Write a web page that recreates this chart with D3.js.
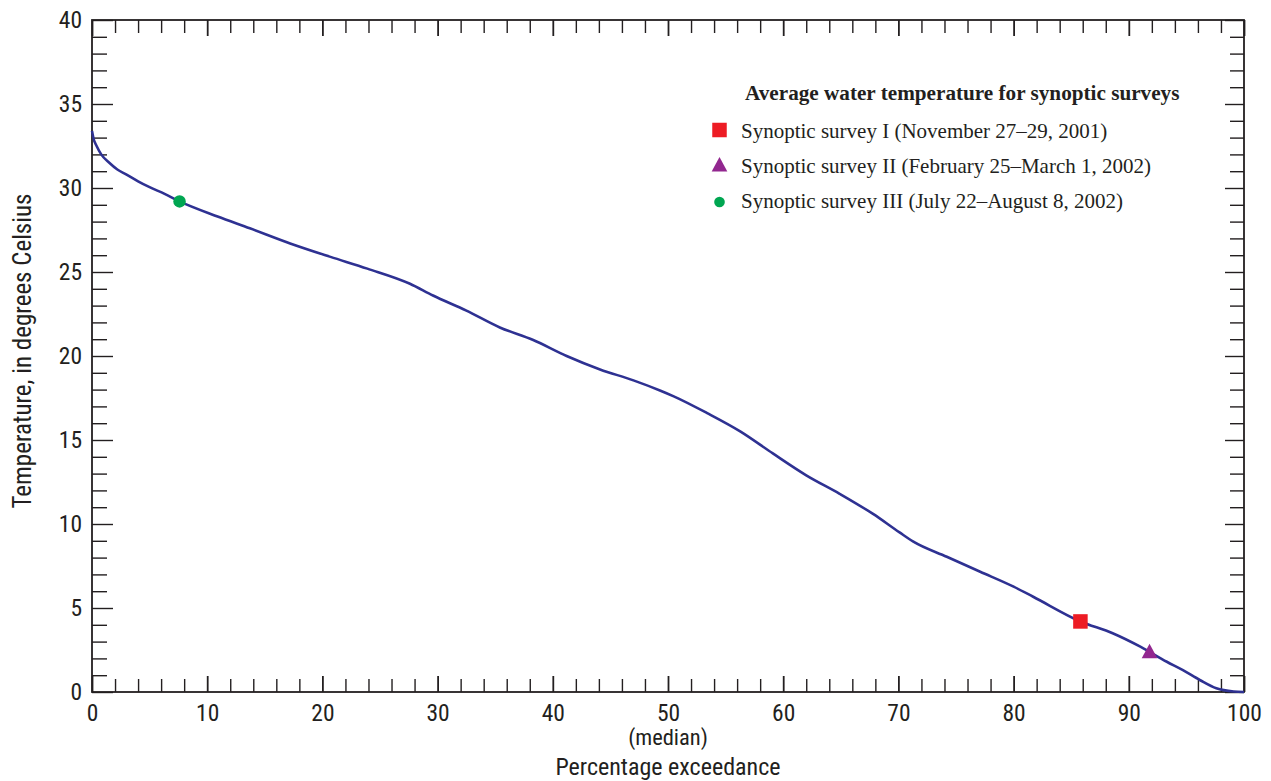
<!DOCTYPE html>
<html><head><meta charset="utf-8">
<script src="https://cdn.jsdelivr.net/npm/d3@7"></script>
<style>body{margin:0;background:#fff;} svg{display:block;}</style>
</head><body>
<svg id="chart" width="1271" height="781"></svg>
<script>
// Duration curve data (percentage exceedance vs temperature)
const exceedance = [0, 0.15, 0.4, 0.8, 1.5, 2.2, 3.0, 4.0, 5.0, 6.3, 7.6, 10.9, 13.7, 17.2, 20.7, 23.9, 27.6, 29.6, 32.5, 35.4, 38.3, 41.2, 44.1, 47.0, 49.3, 50.5, 53.4, 56.3, 59.1, 62.0, 64.9, 67.8, 70.1, 71.3, 74.2, 77.1, 80.0, 81.7, 85.8, 88.6, 91.0, 93.3, 94.7, 96.2, 97.6, 99.1, 100];
const temperature = [33.4, 32.9, 32.5, 32.0, 31.5, 31.1, 30.8, 30.4, 30.05, 29.65, 29.2, 28.3, 27.6, 26.7, 25.9, 25.2, 24.3, 23.6, 22.7, 21.7, 20.95, 20.0, 19.2, 18.55, 17.95, 17.6, 16.6, 15.5, 14.2, 12.9, 11.8, 10.6, 9.5, 8.95, 8.05, 7.16, 6.27, 5.67, 4.2, 3.5, 2.7, 1.8, 1.3, 0.7, 0.22, 0.03, 0];

// Synoptic surveys
const surveyLabels = ["Synoptic survey I (November 27\u201329, 2001)", "Synoptic survey II (February 25\u2013March 1, 2002)", "Synoptic survey III (July 22\u2013August 8, 2002)"];
const surveyExceedance = [85.8, 91.8, 7.6];
const surveyTemperature = [4.2, 2.4, 29.2];
const surveyShapes = ["square", "triangle", "circle"];
const surveyColors = ["#ed1c24", "#92278f", "#00a651"];
const legendTitle = "Average water temperature for synoptic surveys";

const xTicks = [0, 10, 20, 30, 40, 50, 60, 70, 80, 90, 100];
const yTicks = [0, 5, 10, 15, 20, 25, 30, 35, 40];

const svg = d3.select("#chart");
const L = 92, R = 1244, T = 20, B = 692;
const x = d3.scaleLinear().domain([0, 100]).range([L, R]);
const y = d3.scaleLinear().domain([0, 40]).range([B, T]);
const axisColor = "#231f20";
const tickFont = "'Liberation Sans Narrow', 'Roboto Condensed', 'Arial Narrow', sans-serif";

const minorX = d3.range(0, 101, 2);
const minorY = d3.range(0, 41, 1);

const gB = svg.append("g").attr("transform", `translate(0,${B})`)
  .call(d3.axisTop(x).tickValues(minorX).tickSize(13).tickFormat(""));
const gT = svg.append("g").attr("transform", `translate(0,${T})`)
  .call(d3.axisBottom(x).tickValues(minorX).tickSize(13).tickFormat(""));
const gL = svg.append("g").attr("transform", `translate(${L},0)`)
  .call(d3.axisRight(y).tickValues(minorY).tickSize(15).tickFormat(""));
const gR = svg.append("g").attr("transform", `translate(${R},0)`)
  .call(d3.axisLeft(y).tickValues(minorY).tickSize(14).tickFormat(""));
[gB, gT, gL, gR].forEach(g => {
  g.select(".domain").remove();
  g.selectAll(".tick line").attr("stroke", axisColor).attr("stroke-width", 1.4);
});
gB.selectAll(".tick").filter(d => d % 10 === 0).select("line").attr("y2", -16).attr("stroke-width", 1.8);
gT.selectAll(".tick").filter(d => d % 10 === 0).select("line").attr("y2", 16).attr("stroke-width", 1.8);
gL.selectAll(".tick").filter(d => d % 5 === 0).select("line").attr("x2", 21);
gR.selectAll(".tick").filter(d => d % 5 === 0).select("line").attr("x2", -19);

svg.append("rect").attr("x", L).attr("y", T).attr("width", R - L).attr("height", B - T)
  .attr("fill", "none").attr("stroke", axisColor).attr("stroke-width", 1.8);

// Tick labels
const gXL = svg.append("g").attr("transform", `translate(0,${B})`)
  .call(d3.axisBottom(x).tickValues(xTicks).tickSize(0).tickPadding(12).tickFormat(d3.format("d")));
gXL.select(".domain").remove();
gXL.selectAll("text").attr("font-family", tickFont).attr("font-size", 23.5).attr("fill", axisColor);
const gYL = svg.append("g").attr("transform", `translate(${L},0)`)
  .call(d3.axisLeft(y).tickValues(yTicks).tickSize(0).tickPadding(10).tickFormat(d3.format("d")));
gYL.select(".domain").remove();
gYL.selectAll("text").attr("font-family", tickFont).attr("font-size", 23.5).attr("fill", axisColor);

svg.append("text").attr("x", x(50)).attr("y", 745).attr("text-anchor", "middle")
  .attr("font-family", tickFont).attr("font-size", 22.5).attr("fill", axisColor).text("(median)");
svg.append("text").attr("x", x(50)).attr("y", 775).attr("text-anchor", "middle")
  .attr("font-family", tickFont).attr("font-size", 24).attr("fill", axisColor).text("Percentage exceedance");
svg.append("text").attr("transform", `translate(31,351) rotate(-90)`).attr("text-anchor", "middle")
  .attr("font-family", tickFont).attr("font-size", 25).attr("fill", axisColor).text("Temperature, in degrees Celsius");

// Curve
const pts = exceedance.map((e, i) => [e, temperature[i]]);
svg.append("path").datum(pts)
  .attr("d", d3.line().x(d => x(d[0])).y(d => y(d[1])).curve(d3.curveMonotoneX))
  .attr("fill", "none").attr("stroke", "#2e3192").attr("stroke-width", 2.6);

function drawMarker(g, shape, cx, cy, color, s) {
  if (shape === "square") {
    g.append("rect").attr("x", cx - s / 2).attr("y", cy - s / 2).attr("width", s).attr("height", s).attr("fill", color);
  } else if (shape === "triangle") {
    g.append("path").attr("d", `M${cx},${cy - s * 0.55} L${cx + s * 0.54},${cy + s * 0.45} L${cx - s * 0.54},${cy + s * 0.45} Z`).attr("fill", color);
  } else {
    g.append("circle").attr("cx", cx).attr("cy", cy).attr("r", s / 2).attr("fill", color);
  }
}
const gm = svg.append("g");
surveyShapes.forEach((sh, i) => {
  drawMarker(gm, sh, x(surveyExceedance[i]), y(surveyTemperature[i]), surveyColors[i], sh === "circle" ? 12.5 : 14.5);
});

// Legend
const serif = "'Liberation Serif', 'Times New Roman', serif";
svg.append("text").attr("x", 745).attr("y", 100).attr("font-family", serif).attr("font-weight", "bold")
  .attr("font-size", 21.2).attr("fill", axisColor).text(legendTitle);
const gl = svg.append("g");
const legendMarkerY = [130, 165, 202];
surveyLabels.forEach((lab, i) => {
  drawMarker(gl, surveyShapes[i], 719.5, legendMarkerY[i], surveyColors[i], surveyShapes[i] === "circle" ? 10.6 : 14.5);
  gl.append("text").attr("x", 741).attr("y", 138 + i * 35).attr("font-family", serif).attr("font-size", 21)
    .attr("fill", axisColor).text(lab);
});
</script>
</body></html>
